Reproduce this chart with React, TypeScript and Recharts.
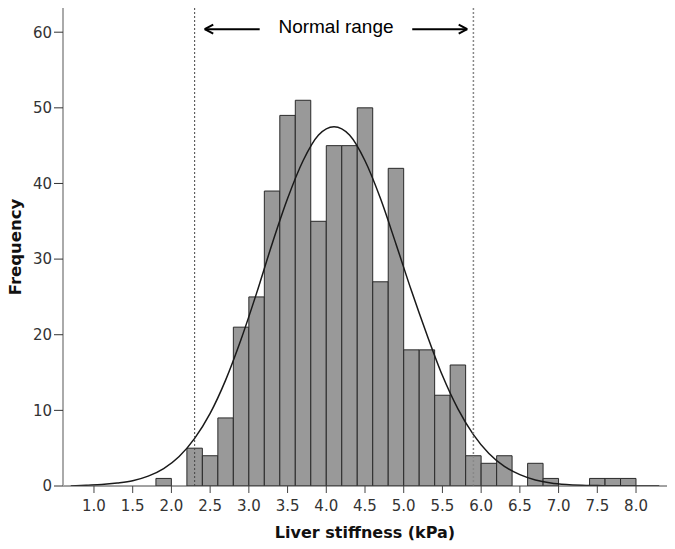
import React from 'react';
import {
  ComposedChart,
  Bar,
  Line,
  XAxis,
  YAxis,
  ReferenceLine
} from 'recharts';

// bin centres (0.2 kPa wide bins)
const binCenters = [
  0.7, 0.9, 1.1, 1.3, 1.5, 1.7, 1.9, 2.1, 2.3, 2.5, 2.7, 2.9, 3.1, 3.3, 3.5, 3.7,
  3.9, 4.1, 4.3, 4.5, 4.7, 4.9, 5.1, 5.3, 5.5, 5.7, 5.9, 6.1, 6.3, 6.5, 6.7, 6.9,
  7.1, 7.3, 7.5, 7.7, 7.9, 8.1, 8.3
];

const counts = [
  0, 0, 0, 0, 0, 0, 1, 0, 5, 4, 9, 21, 25, 39, 49, 51,
  35, 45, 45, 50, 27, 42, 18, 18, 12, 16, 4, 3, 4, 0, 3, 1,
  0, 0, 1, 1, 1, 0, 0
];

// fitted normal curve
const normalCurve = [
  0.0, 0.1, 0.2, 0.4, 0.7, 1.3, 2.3, 3.9, 6.3, 9.6, 14.0, 19.4, 25.5, 32.0, 38.0, 43.0,
  46.4, 47.5, 46.4, 43.0, 38.0, 32.0, 25.8, 20.0, 14.6, 10.2, 6.8, 4.3, 2.6, 1.5, 0.8, 0.4,
  0.2, 0.1, 0.05, 0, 0, 0, 0
];

const xTicks = [1.0, 1.5, 2.0, 2.5, 3.0, 3.5, 4.0, 4.5, 5.0, 5.5, 6.0, 6.5, 7.0, 7.5, 8.0];
const yTicks = [0, 10, 20, 30, 40, 50, 60];

const normalLow = 2.3;
const normalHigh = 5.9;

const data = binCenters.map((x, i) => ({
  x,
  count: counts[i] > 0 ? counts[i] : null,
  curve: normalCurve[i]
}));

const tickFont = { fontFamily: 'DejaVu Sans', fontSize: 15, fill: '#333' };
const titleFont = "'DejaVu Sans', sans-serif";

const arrowY = 60.4;
const leftTip = 2.43;
const leftTail = 3.14;
const rightTail = 5.11;
const rightTip = 5.82;

const YTitle = (props: any) => {
  const vb = props.viewBox || { x: 0, y: 8, width: 63, height: 478 };
  const cx = vb.x + 15;
  const cy = vb.y + vb.height / 2;
  return (
    <text
      x={cx}
      y={cy}
      transform={`rotate(-90, ${cx}, ${cy})`}
      textAnchor="middle"
      dominantBaseline="central"
      fontFamily={titleFont}
      fontWeight="bold"
      fontSize={16.5}
      fill="#111"
    >
      Frequency
    </text>
  );
};

const App: React.FC = () => {
  return (
    <div style={{ position: 'absolute', left: 0, top: 0, background: '#fff' }}>
      <ComposedChart
        width={675}
        height={549}
        data={data}
        barGap={0}
        margin={{ top: 8, right: 8, left: 0, bottom: 0 }}
      >
        <XAxis
          dataKey="x"
          type="number"
          domain={[0.6, 8.4]}
          ticks={xTicks}
          tickFormatter={(v: number) => v.toFixed(1)}
          height={63}
          tick={tickFont}
          tickSize={7}
          tickMargin={7}
          axisLine={{ stroke: '#444' }}
          tickLine={{ stroke: '#444' }}
          allowDataOverflow
          label={{
            value: 'Liver stiffness (kPa)',
            position: 'insideBottom',
            offset: 11,
            fontFamily: titleFont,
            fontWeight: 'bold',
            fontSize: 16,
            fill: '#111'
          }}
        />
        <YAxis
          type="number"
          domain={[0, 63.2]}
          ticks={yTicks}
          width={63}
          tick={tickFont}
          tickSize={9}
          tickMargin={2}
          axisLine={{ stroke: '#aaa', strokeWidth: 2 }}
          tickLine={{ stroke: '#333' }}
          allowDataOverflow
          label={{ content: <YTitle /> }}
        />
        <Bar
          dataKey="count"
          fill="#999"
          stroke="#2a2a2a"
          strokeWidth={1}
          barSize={15.45}
          isAnimationActive={false}
        />
        <Line
          dataKey="curve"
          type="monotone"
          stroke="#1a1a1a"
          strokeWidth={1.5}
          dot={false}
          activeDot={false}
          isAnimationActive={false}
        />
        <ReferenceLine x={normalLow} stroke="#444" strokeDasharray="2 2" />
        <ReferenceLine x={normalHigh} stroke="#888" strokeDasharray="2 2" strokeWidth={1.5} />
        {/* arrows and caption */}
        <ReferenceLine
          segment={[{ x: leftTail, y: arrowY }, { x: rightTail, y: arrowY }]}
          stroke="none"
          label={{
            value: 'Normal range',
            position: 'center',
            dy: -3,
            fontFamily: "'Liberation Sans', Arial, sans-serif",
            fontSize: 19,
            fill: '#000'
          }}
        />
        <ReferenceLine segment={[{ x: leftTip, y: arrowY }, { x: leftTail, y: arrowY }]} stroke="#000" strokeWidth={2} />
        <ReferenceLine segment={[{ x: leftTip, y: arrowY }, { x: leftTip + 0.11, y: arrowY + 0.6 }]} stroke="#000" strokeWidth={2} />
        <ReferenceLine segment={[{ x: leftTip, y: arrowY }, { x: leftTip + 0.11, y: arrowY - 0.6 }]} stroke="#000" strokeWidth={2} />
        <ReferenceLine segment={[{ x: rightTail, y: arrowY }, { x: rightTip, y: arrowY }]} stroke="#000" strokeWidth={2} />
        <ReferenceLine segment={[{ x: rightTip, y: arrowY }, { x: rightTip - 0.11, y: arrowY + 0.6 }]} stroke="#000" strokeWidth={2} />
        <ReferenceLine segment={[{ x: rightTip, y: arrowY }, { x: rightTip - 0.11, y: arrowY - 0.6 }]} stroke="#000" strokeWidth={2} />
      </ComposedChart>
    </div>
  );
};

export default App;
